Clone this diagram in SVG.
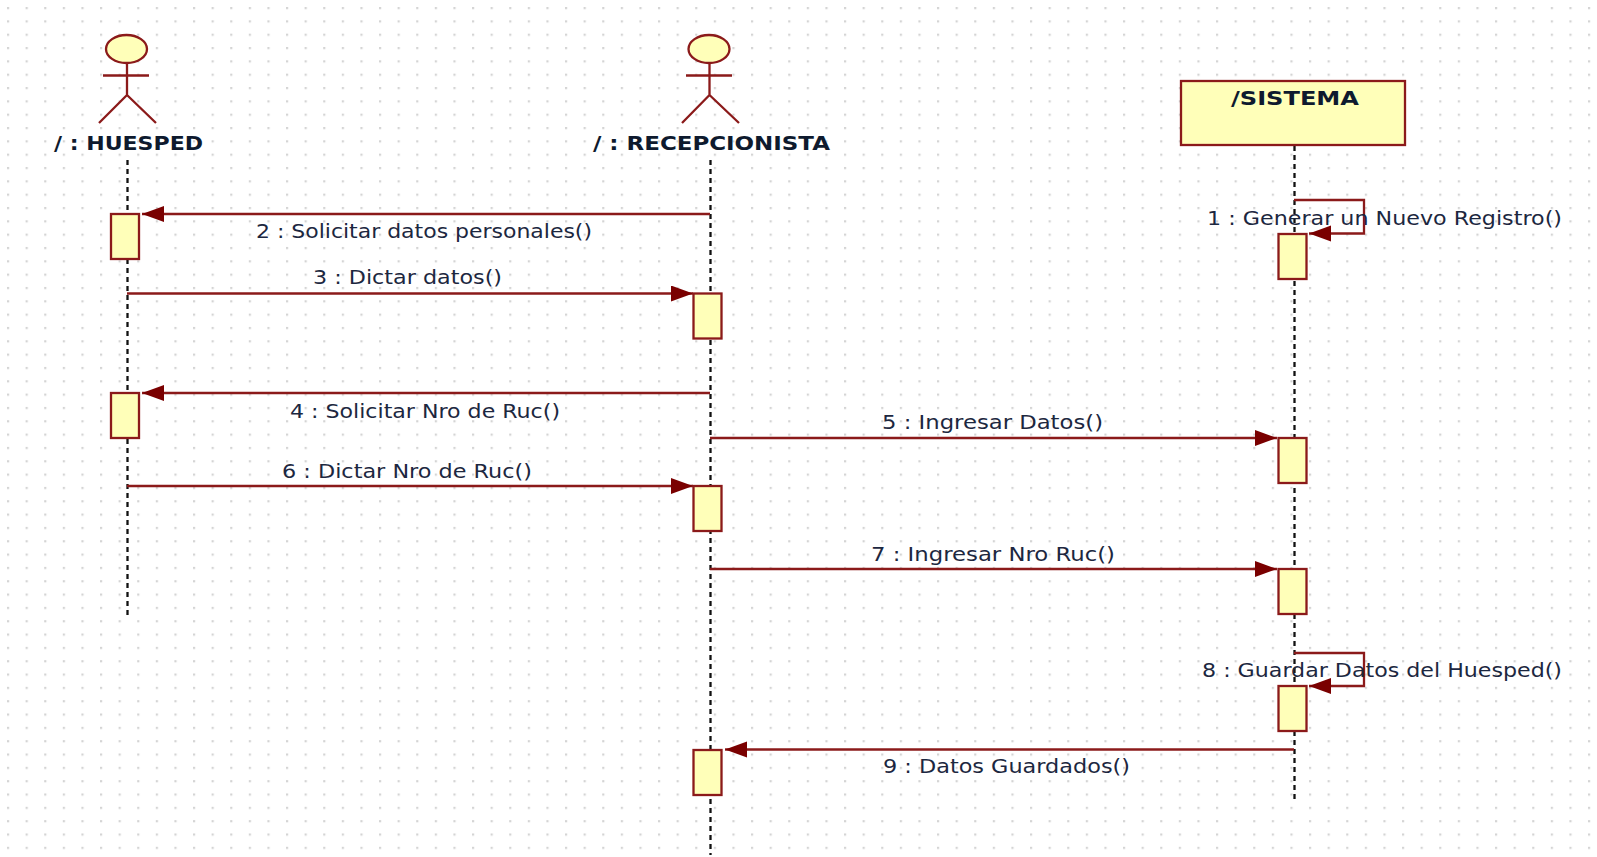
<svg xmlns="http://www.w3.org/2000/svg" width="1597" height="857" viewBox="0 0 1597 857">
<style>
.ln{fill:none;stroke:#8b1a1a;stroke-width:2.300}
.box{fill:#ffffb9;stroke:#8b1a1a;stroke-width:2.300}
.life{fill:none;stroke:#111;stroke-width:2.300;stroke-dasharray:5 4}
text{font-family:"DejaVu Sans","Liberation Sans",sans-serif;fill:#1c2740}
.m{font-size:19px}
.b{font-size:20px;font-weight:bold;fill:#0e1a2e}
</style>
<defs>
<pattern id="grid" x="7" y="7" width="18.6" height="13.33" patternUnits="userSpaceOnUse"><rect x="-0.2" y="-0.2" width="2.4" height="2.4" fill="#d4d4d4"/></pattern>
<marker id="ah" markerUnits="userSpaceOnUse" markerWidth="24" markerHeight="18" refX="23" refY="8" orient="auto"><path d="M1 0L23 8L1 16Z" fill="#7a0000"/></marker>
</defs>
<rect width="1597" height="857" fill="#fff"/>
<rect width="1597" height="857" fill="url(#grid)"/>
<g id="lifelines">
<path class="life" d="M127.500 160V615"/>
<path class="life" d="M710.500 160V855"/>
<path class="life" d="M1294.500 146V800"/>
</g>
<g id="connectors">
<path class="ln" d="M710 214H142" marker-end="url(#ah)"/>
<path class="ln" d="M127 293.500H693" marker-end="url(#ah)"/>
<path class="ln" d="M710 393H142" marker-end="url(#ah)"/>
<path class="ln" d="M710 438H1277" marker-end="url(#ah)"/>
<path class="ln" d="M127 486H693" marker-end="url(#ah)"/>
<path class="ln" d="M710 569H1277" marker-end="url(#ah)"/>
<path class="ln" d="M1294 200H1364V233.500H1309" marker-end="url(#ah)"/>
<path class="ln" d="M1294 653H1364V686H1309" marker-end="url(#ah)"/>
<path class="ln" d="M1294 749.500H725" marker-end="url(#ah)"/>
</g>
<g id="actor-huesped">
<ellipse class="box" cx="126.500" cy="49" rx="20.500" ry="14"/>
<path class="ln" d="M127 63V95M103 75.500H149M127 95L99 123M127 95L156 123"/>
<text class="b" x="54" y="150" textLength="149" lengthAdjust="spacingAndGlyphs">/ : HUESPED</text>
</g>
<g id="actor-recepcionista">
<ellipse class="box" cx="709" cy="49" rx="20.500" ry="14"/>
<path class="ln" d="M709.500 63V95M686 75.500H732M709.500 95L682 123M709.500 95L739 123"/>
<text class="b" x="593" y="150" textLength="237" lengthAdjust="spacingAndGlyphs">/ : RECEPCIONISTA</text>
</g>
<g id="sistema">
<rect class="box" x="1181" y="81" width="224" height="64"/>
<text class="b" x="1231" y="105" textLength="128" lengthAdjust="spacingAndGlyphs">/SISTEMA</text>
</g>
<g id="activations">
<rect class="box" x="111" y="214" width="28" height="45"/>
<rect class="box" x="693.500" y="293.500" width="28" height="45"/>
<rect class="box" x="111" y="393" width="28" height="45"/>
<rect class="box" x="693.500" y="486" width="28" height="45"/>
<rect class="box" x="1278.500" y="234" width="28" height="45"/>
<rect class="box" x="1278.500" y="438" width="28" height="45"/>
<rect class="box" x="1278.500" y="569" width="28" height="45"/>
<rect class="box" x="1278.500" y="686" width="28" height="45"/>
<rect class="box" x="693.500" y="750" width="28" height="45"/>
</g>
<g id="labels">
<text class="m" x="1207" y="225" textLength="355" lengthAdjust="spacingAndGlyphs">1 : Generar un Nuevo Registro()</text>
<text class="m" x="256" y="238" textLength="336" lengthAdjust="spacingAndGlyphs">2 : Solicitar datos personales()</text>
<text class="m" x="313" y="284" textLength="189" lengthAdjust="spacingAndGlyphs">3 : Dictar datos()</text>
<text class="m" x="290" y="418" textLength="270" lengthAdjust="spacingAndGlyphs">4 : Solicitar Nro de Ruc()</text>
<text class="m" x="882" y="429" textLength="221" lengthAdjust="spacingAndGlyphs">5 : Ingresar Datos()</text>
<text class="m" x="282" y="478" textLength="250" lengthAdjust="spacingAndGlyphs">6 : Dictar Nro de Ruc()</text>
<text class="m" x="871" y="561" textLength="244" lengthAdjust="spacingAndGlyphs">7 : Ingresar Nro Ruc()</text>
<text class="m" x="1202" y="677" textLength="360" lengthAdjust="spacingAndGlyphs">8 : Guardar Datos del Huesped()</text>
<text class="m" x="883" y="773" textLength="247" lengthAdjust="spacingAndGlyphs">9 : Datos Guardados()</text>
</g>
</svg>
